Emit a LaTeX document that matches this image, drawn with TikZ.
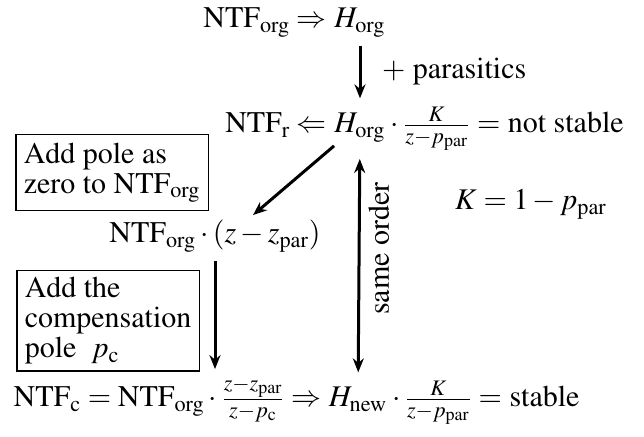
\documentclass[tikz,border=0pt]{standalone}
\usepackage[T1]{fontenc}
\usepackage{mathptmx}
\usetikzlibrary{positioning,arrows.meta}

\begin{document}
\begin{tikzpicture}[x=0.5pt,y=-0.5pt,
	font=\fontsize{15}{15}\selectfont,
	eq/.style={inner xsep=0pt,inner ysep=4pt},
	box/.style={draw,line width=0.75pt,align=left,inner xsep=4pt,anchor=north west},
	flow/.style={line width=1.5pt,-{Stealth[length=7pt,width=5.5pt]}}]
		\useasboundingbox (0,0) rectangle (644,437);

		% Top line
		\node[eq,anchor=base] (h1) at (360,28) {$H_{\mathrm{org}}$};
		\node[eq,base left=0pt of h1] (n1) {$\mathrm{NTF}_{\mathrm{org}}\Rightarrow{}$};

		% Second line
		\node[eq,anchor=base] (h2) at (360,133) {$\vphantom{\frac{K}{z-p_{\mathrm{par}}}}H_{\mathrm{org}}$};
		\node[eq,base left=0pt of h2] (n2) {$\mathrm{NTF}_{\mathrm{r}}\Leftarrow{}$};
		\node[eq,base right=0pt of h2] (r2) {${}\cdot\frac{K}{z-p_{\mathrm{par}}}=$ not stable};

		% Middle
		\node[eq,anchor=base] (m) at (215,243) {$\mathrm{NTF}_{\mathrm{org}}\cdot(z-z_{\mathrm{par}})$};
		\node[eq,anchor=base] (k) at (531,210) {$K=1-p_{\mathrm{par}}$};

		% Bottom line
		\node[eq,anchor=base] (hnew) at (358,407) {$\vphantom{\frac{K}{z-p_{\mathrm{par}}}}H_{\mathrm{new}}$};
		\node[eq,base left=0pt of hnew] (b1) {$\mathrm{NTF}_{\mathrm{c}}=\mathrm{NTF}_{\mathrm{org}}\cdot\frac{z-z_{\mathrm{par}}}{z-p_{\mathrm{c}}}\Rightarrow{}$};
		\node[eq,base right=0pt of hnew] (b3) {${}\cdot\frac{K}{z-p_{\mathrm{par}}}=$ stable};

		% Boxes
		\node[box,minimum width=93.5pt,minimum height=38pt] (addzero) at (15,134) {Add pole as\\zero to $\mathrm{NTF}_{\mathrm{org}}$};
		\node[box,minimum width=86pt,minimum height=48.5pt] (addpole) at (16,270) {Add the\\compensation\\pole~~$p_{\mathrm{c}}$};

		% Arrows
		\draw[flow] (h1) -- (h2) node[midway,right=7pt] {$+$ parasitics};
		\draw[flow] (n2.south east) -- ([xshift=19pt,yshift=-1.5pt]m.north);
		\draw[flow] (m) -- (m.south |- b1.north);
		\draw[flow,{Stealth[length=7pt,width=5.5pt]}-{Stealth[length=7pt,width=5.5pt]}] (hnew) -- (h2)
			node[pos=0.58,rotate=90,anchor=north,inner sep=4pt] {same order};

		\end{tikzpicture}
\end{document}
